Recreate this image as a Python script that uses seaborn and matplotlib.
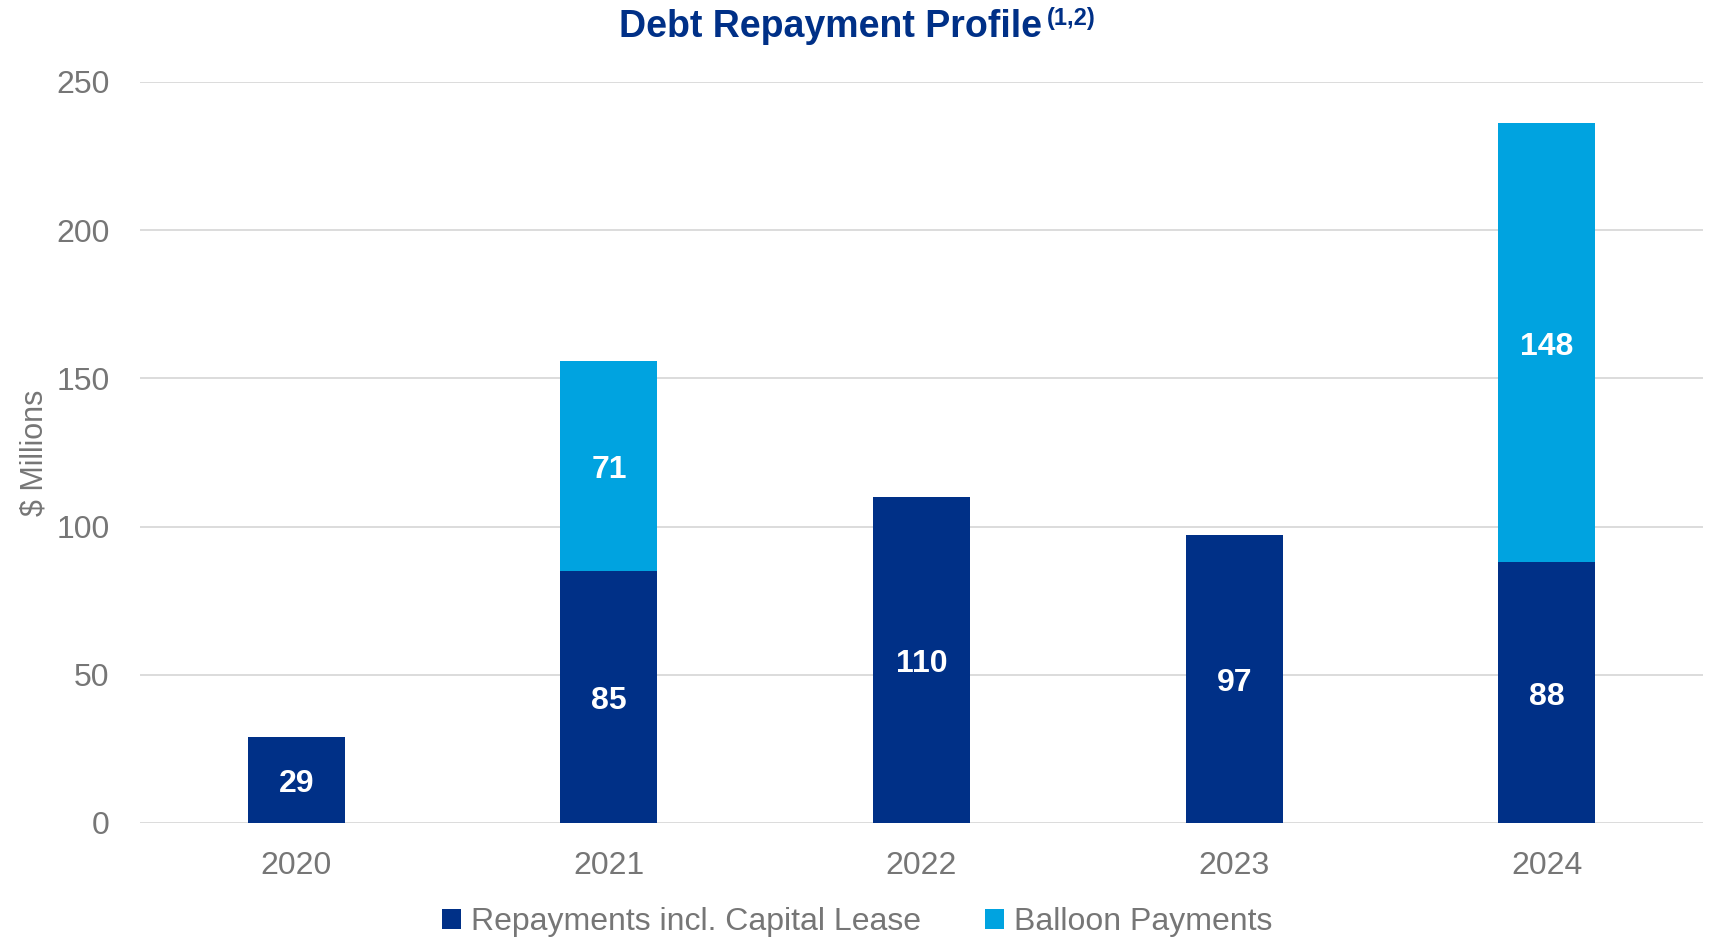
import matplotlib
matplotlib.use("Agg")
import matplotlib.pyplot as plt
import matplotlib.transforms as mtransforms
import seaborn as sns
import pandas as pd
from matplotlib.patches import Patch

years = ["2020", "2021", "2022", "2023", "2024"]
repayments = [29, 85, 110, 97, 88]
balloon = [0, 71, 0, 0, 148]
series_names = ["Repayments incl. Capital Lease", "Balloon Payments"]
y_ticks = [0, 50, 100, 150, 200, 250]

NAVY = "#003087"
LIGHT = "#00A3E0"
GREY_TXT = "#767676"
GRID = "#D9D9D9"

sns.set_theme(style="white")
plt.rcParams["font.family"] = ["Liberation Sans", "DejaVu Sans"]

totals = [r + b for r, b in zip(repayments, balloon)]
df = pd.DataFrame({"year": years, "repay": repayments, "balloon": balloon, "total": totals})

fig = plt.figure(figsize=(17.14, 9.4), dpi=100)
ax = fig.add_axes([0.0817, 0.1245, 0.9119, 0.7883])

sns.barplot(data=df, x="year", y="total", color=LIGHT, width=0.31,
            saturation=1, linewidth=0, ax=ax, zorder=3)
sns.barplot(data=df, x="year", y="repay", color=NAVY, width=0.31,
            saturation=1, linewidth=0, ax=ax, zorder=4)

# value labels sit a touch below the segment middle
lbl_tr = ax.transData + mtransforms.ScaledTranslation(0, -4 / 100, fig.dpi_scale_trans)
for i, (r, b) in enumerate(zip(repayments, balloon)):
    ax.text(i, r / 2, f"{r}", ha="center", va="center", color="white",
            fontsize=23, fontweight="bold", zorder=5, transform=lbl_tr)
    if b > 0:
        ax.text(i, r + b / 2, f"{b}", ha="center", va="center", color="white",
                fontsize=23, fontweight="bold", zorder=5, transform=lbl_tr)

ax.set_xlim(-0.5, len(years) - 0.5)
ax.set_ylim(0, 250)
ax.set_yticks(y_ticks)
ax.yaxis.grid(True, color=GRID, linewidth=1.3, zorder=0)
ax.set_axisbelow(True)
for s in ax.spines.values():
    s.set_visible(False)
ax.tick_params(axis="both", length=0, labelsize=23, labelcolor=GREY_TXT)
ax.tick_params(axis="y", pad=22)
ax.tick_params(axis="x", pad=20)
ax.set_xlabel("")
ax.set_ylabel("$ Millions", fontsize=22, color=GREY_TXT)
ax.yaxis.set_label_coords(-0.058, 0.5)

# title with superscript note marker
main = fig.text(0.5, 0.0, "Debt Repayment Profile", fontsize=27,
                fontweight="bold", color=NAVY, ha="left", va="baseline")
sup = fig.text(0.5, 0.0, "(1,2)", fontsize=17, fontweight="bold", color=NAVY,
               ha="left", va="baseline")
fig.canvas.draw()
rend = fig.canvas.get_renderer()
w_main = main.get_window_extent(rend).width / fig.bbox.width
w_sup = sup.get_window_extent(rend).width / fig.bbox.width
gap = 0.003
x0 = 0.5 - (w_main + gap + w_sup) / 2
base_y = 1 - 37 / 940
main.set_position((x0, base_y))
sup.set_position((x0 + w_main + gap, base_y + 0.013))

handles = [Patch(facecolor=NAVY, edgecolor="none"), Patch(facecolor=LIGHT, edgecolor="none")]
leg = fig.legend(handles, series_names, loc="center", bbox_to_anchor=(0.5, 1 - 922 / 940),
                 ncol=2, frameon=False, fontsize=23, handlelength=0.6, handleheight=0.6,
                 handletextpad=0.3, columnspacing=2.0)
for t in leg.get_texts():
    t.set_color(GREY_TXT)

fig.savefig("out.png", dpi=100)
